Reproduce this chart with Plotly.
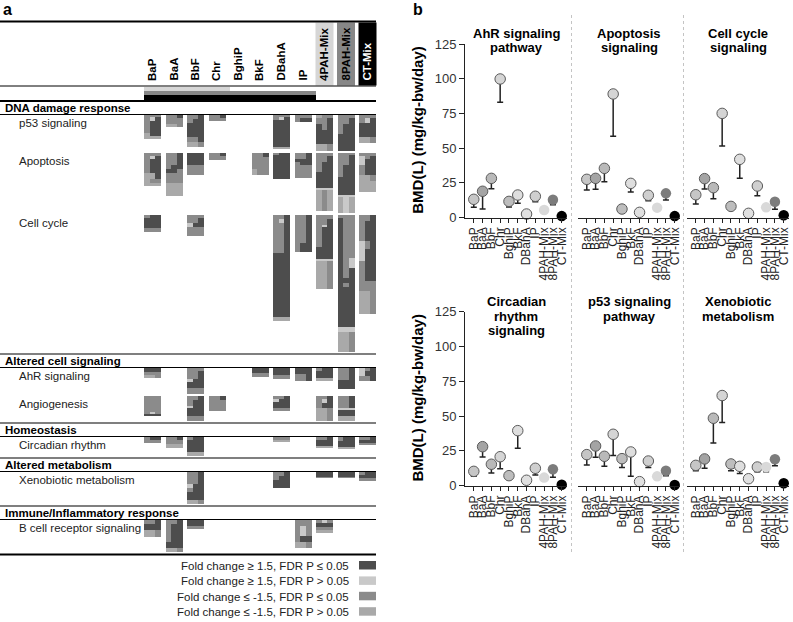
import numpy as np
import plotly.graph_objects as go

W, H = 793, 622
FONT = "Liberation Sans, Arial, sans-serif"

CHEMICALS = ["BaP", "BaA", "BbF", "Chr", "BghiP", "BkF", "DBahA", "IP",
             "4PAH-Mix", "8PAH-Mix", "CT-Mix"]

# ---------------- Panel b data: BMD and BMDL (mg/kg-bw/day) ----------------
AHR_BMD = [13.1, 18.9, 28.2, 99.8, 11.6, 16.2, 2.5, 15.3, 5.4, 12.8, 1.0]
AHR_BMDL = [7.3, 6.1, 20.8, 83.0, 7.6, 10.2, 1.0, 11.4, 5.4, 9.2, 1.0]
APO_BMD = [27.5, 28.2, 35.4, 89.0, 6.1, 24.6, 3.7, 16.0, 7.1, 17.4, 1.0]
APO_BMDL = [19.8, 20.3, 25.8, 58.5, 3.7, 18.4, 1.3, 12.1, 7.1, 12.6, 1.0]
CELL_BMD = [16.4, 28.0, 21.5, 75.0, 8.0, 41.9, 3.0, 22.7, 7.3, 11.4, 1.6]
CELL_BMDL = [9.7, 20.5, 13.5, 51.5, 6.3, 28.2, 1.3, 15.7, 7.3, 5.9, 1.6]
CIRC_BMD = [10.3, 28.0, 15.4, 20.8, 7.2, 39.5, 3.9, 12.5, 5.8, 11.8, 0.7]
CIRC_BMDL = [6.7, 20.6, 9.1, 12.2, 5.0, 26.9, 1.9, 7.7, 5.8, 6.0, 0.7]
P53_BMD = [22.3, 28.5, 21.1, 36.9, 19.4, 24.2, 2.9, 17.7, 6.7, 10.7, 0.5]
P53_BMDL = [14.9, 20.4, 14.0, 21.7, 13.1, 6.7, 1.7, 13.1, 6.7, 7.2, 0.5]
XENO_BMD = [14.6, 19.2, 48.4, 64.7, 15.6, 13.9, 5.0, 13.4, 13.4, 19.0, 1.7]
XENO_BMDL = [10.8, 12.5, 30.6, 45.3, 10.8, 8.8, 2.4, 10.0, 10.0, 14.4, 1.7]

PANEL_TITLES = [["AhR signaling", "pathway"], ["Apoptosis", "signaling"],
                ["Cell cycle", "signaling"], ["Circadian", "rhythm", "signaling"],
                ["p53 signaling", "pathway"], ["Xenobiotic", "metabolism"]]
PANEL_BMD = [AHR_BMD, APO_BMD, CELL_BMD, CIRC_BMD, P53_BMD, XENO_BMD]
PANEL_BMDL = [AHR_BMDL, APO_BMDL, CELL_BMDL, CIRC_BMDL, P53_BMDL, XENO_BMDL]

MARKER_FILL = ["#c6c6c6", "#a4a4a4", "#b9b9b9", "#d5d5d5", "#bdbdbd", "#dedede",
               "#e0e0e0", "#cfcfcf", "#d9d9d9", "#7c7c7c", "#000000"]
MARKER_EDGE = ["#5a5a5a"] * 8 + ["#d9d9d9", "#7c7c7c", "#000000"]
MARKER_EDGE_W = [1] * 8 + [0, 0, 0]
Y_TICKS = [0, 25, 50, 75, 100, 125]

# ---------------- Panel a data: gene blocks (height, dose colour codes) ----------------
# D: FC>=1.5 FDR<=0.05, W: FC>=1.5 FDR>0.05, M: FC<=-1.5 FDR<=0.05, L: FC<=-1.5 FDR>0.05
P53_BLOCKS = {
    "BaP": [(2, "MMM"), (4, "MWD"), (12, "MDD"), (3, "LDD"), (3, "LLL")],
    "BaA": [(3, "MMD"), (6, "MMM"), (3, "LLM")],
    "BbF": [(4, "MMD"), (4, "MDD"), (14, "DDD"), (5, "MMD"), (5, "LLM")],
    "Chr": [(3, "MMD"), (3, "MMM")],
    "DBahA": [(2, "MMM"), (3, "MWD"), (27, "DDD"), (2, "LLL")],
    "IP": [(3, "MMM"), (4, "MDD")],
    "4PAH-Mix": [(3, "LMM"), (6, "MMD"), (6, "DMD"), (14, "DDD"), (7, "LLM")],
    "8PAH-Mix": [(3, "MMM"), (6, "MMD"), (10, "MDD"), (17, "DDD")],
    "CT-Mix": [(3, "MMM"), (5, "MWD"), (14, "DDD"), (6, "LLM")],
}
APOPTOSIS_BLOCKS = {
    "BaP": [(3, "MMM"), (3, "MWD"), (14, "MDD"), (6, "LLD"), (4, "LMM"), (3, "LLL")],
    "BaA": [(12, "MMD"), (4, "MDD"), (4, "DDM"), (10, "MMM"), (13, "LLL")],
    "BbF": [(12, "DDD"), (10, "MMM")],
    "Chr": [(3, "MMD"), (4, "MMM")],
    "BkF": [(4, "MMD"), (12, "MMM"), (6, "LMM")],
    "DBahA": [(2, "MDD"), (24, "DDD")],
    "IP": [(6, "MMD"), (3, "DDD"), (3, "MDD"), (13, "MMM")],
    "4PAH-Mix": [(3, "MMM"), (6, "MMD"), (10, "MDD"), (16, "DDD"), (2, "WWW"), (21, "LML")],
    "8PAH-Mix": [(2, "MMM"), (10, "MMD"), (12, "MDD"), (18, "DDD"), (2, "WWW"), (16, "LWL")],
    "CT-Mix": [(3, "MMM"), (3, "WMD"), (6, "WDD"), (10, "MDD"), (6, "LLM"), (11, "LLL")],
}
CELLCYCLE_BLOCKS = {
    "BaP": [(3, "MDD"), (10, "DDD"), (4, "MMM")],
    "BbF": [(3, "MMM"), (5, "MMD"), (4, "WDD"), (9, "MMM")],
    "DBahA": [(4, "MMD"), (4, "MWD"), (30, "MMD"), (64, "DDD"), (4, "LLL")],
    "IP": [(28, "MMD"), (9, "MDD")],
    "4PAH-Mix": [(4, "MMM"), (6, "MMD"), (2, "MWD"), (20, "MDD"), (12, "DDD"), (2, "WWW"), (28, "LLM")],
    "8PAH-Mix": [(3, "MMM"), (40, "DMM"), (10, "DMW"), (10, "DMD"), (5, "DDD"), (4, "DMD"),
                 (40, "DDD"), (5, "WWW"), (20, "LLM")],
    "CT-Mix": [(6, "MMD"), (20, "MDD"), (8, "WMD"), (12, "WDD"), (20, "MDD"), (10, "MMM"), (23, "LLM")],
}
AHR_BLOCKS = {
    "BaP": [(4, "DDD"), (3, "MMM"), (3, "LLM")],
    "BbF": [(3, "MMM"), (8, "MMD"), (3, "WDD"), (6, "DDD"), (6, "MMM")],
    "BkF": [(5, "DDD"), (4, "MMM")],
    "DBahA": [(7, "DDD"), (4, "MMM")],
    "IP": [(6, "DDD"), (7, "MMD")],
    "4PAH-Mix": [(3, "MDD"), (7, "DDD"), (3, "LLL")],
    "8PAH-Mix": [(4, "MMD"), (8, "MMD"), (9, "DDD")],
    "CT-Mix": [(3, "WMD"), (5, "WDD"), (5, "MMD")],
}
ANGIO_BLOCKS = {
    "BaP": [(16, "MMM"), (2, "MWM"), (2, "DDD")],
    "BbF": [(4, "MMD"), (6, "MDD"), (2, "WDD"), (8, "DDD"), (5, "MMM")],
    "Chr": [(4, "MMD"), (11, "MMM")],
    "DBahA": [(3, "MMD"), (3, "WDD"), (6, "DDD"), (3, "MMM")],
    "4PAH-Mix": [(3, "MMD"), (4, "MWD"), (5, "MDD"), (13, "LLM")],
    "8PAH-Mix": [(4, "MMD"), (8, "MMD"), (2, "WWW"), (6, "DDD"), (5, "LLL")],
}
CIRCADIAN_BLOCKS = {
    "BaP": [(3, "MDD"), (3, "MMM")],
    "BaA": [(3, "MMD"), (4, "MMM"), (4, "LLL")],
    "BbF": [(3, "MDD"), (12, "DDD"), (4, "LLL")],
    "DBahA": [(3, "MMM"), (2, "LLL")],
    "4PAH-Mix": [(3, "MMD"), (6, "DDD"), (2, "LLL")],
    "8PAH-Mix": [(4, "MDD"), (6, "DDD"), (2, "LLL")],
    "CT-Mix": [(3, "MMD"), (3, "DDD"), (2, "MMM")],
}
XENO_BLOCKS = {
    "BbF": [(12, "MMD"), (4, "WDD"), (4, "MDD"), (8, "DDD"), (4, "LLM")],
    "DBahA": [(4, "MMD"), (4, "MDD"), (8, "DDD")],
    "4PAH-Mix": [(5, "DDD"), (1, "MMM")],
    "8PAH-Mix": [(5, "DDD"), (1, "MMM")],
    "CT-Mix": [(3, "MDD"), (3, "DDD"), (3, "MMM")],
}
BCELL_BLOCKS = {
    "BaP": [(4, "MMD"), (6, "DDD"), (7, "LLM")],
    "BaA": [(4, "MMD"), (18, "MDD"), (6, "DDD"), (4, "LLM")],
    "BbF": [(6, "DDD"), (3, "MMM")],
    "IP": [(6, "MMM"), (10, "MWM"), (6, "MDD"), (6, "LLM")],
    "4PAH-Mix": [(3, "MWM"), (4, "DDD"), (3, "MMM"), (3, "LLL")],
}

SECTIONS = [
    ("DNA damage response", [("p53 signaling", P53_BLOCKS), ("Apoptosis", APOPTOSIS_BLOCKS),
                             ("Cell cycle", CELLCYCLE_BLOCKS)]),
    ("Altered cell signaling", [("AhR signaling", AHR_BLOCKS), ("Angiogenesis", ANGIO_BLOCKS)]),
    ("Homeostasis", [("Circadian rhythm", CIRCADIAN_BLOCKS)]),
    ("Altered metabolism", [("Xenobiotic metabolism", XENO_BLOCKS)]),
    ("Immune/Inflammatory response", [("B cell receptor signaling", BCELL_BLOCKS)]),
]

MIX_MEMBERS = {
    "4PAH-Mix": ["BaP", "BaA", "BbF", "Chr"],
    "8PAH-Mix": ["BaP", "BaA", "BbF", "Chr", "BghiP", "BkF", "DBahA", "IP"],
    "CT-Mix": ["BaP", "BaA", "BbF", "Chr", "BghiP", "BkF", "DBahA", "IP"],
}
MIX_COLORS = {"4PAH-Mix": "#d6d6d6", "8PAH-Mix": "#878787", "CT-Mix": "#000000"}

LEGEND_LABELS = ["Fold change \u2265 1.5, FDR P \u2264 0.05", "Fold change \u2265 1.5, FDR P > 0.05",
                 "Fold change \u2264 -1.5, FDR P \u2264 0.05", "Fold change \u2264 -1.5, FDR P > 0.05"]
CODE_COLORS = ["#4d4d4d", "#c9c9c9", "#8b8b8b", "#a9a9a9"]
CODE_INDEX = {"D": 0, "W": 1, "M": 2, "L": 3}

# ---------------- geometry (layout only) ----------------
SLOT0, SLOT_W, BLOCK_W = 144.0, 21.5, 17.0
PANEL_A_RIGHT = 376
Y0_GRID, Y1_GRID = 100, 562

fig = go.Figure()
shapes, annos = [], []


def px_x(x):
    return x / W


def px_y(y):
    return 1 - y / H


# ---------- Panel a ----------
x_edges = []
for c in range(len(CHEMICALS)):
    x0 = SLOT0 + c * SLOT_W
    x_edges += [x0, x0 + BLOCK_W / 3, x0 + 2 * BLOCK_W / 3, x0 + BLOCK_W]
n_cols = len(x_edges) - 1
y_edges = list(range(Y0_GRID, Y1_GRID + 1))
z = np.full((len(y_edges) - 1, n_cols), np.nan)

A = dict(xref="x7", yref="y7")


def hline(y, width=1, color="#000"):
    shapes.append(dict(type="line", x0=0, x1=PANEL_A_RIGHT, y0=y, y1=y,
                       line=dict(color=color, width=width), layer="above", **A))


# header area
hline(21.5, 2)
for mix, col in MIX_COLORS.items():
    c = CHEMICALS.index(mix)
    x0 = SLOT0 + c * SLOT_W
    shapes.append(dict(type="rect", x0=x0 - 0.5, x1=x0 + BLOCK_W + 0.5, y0=22.5, y1=85.5,
                       fillcolor=col, line=dict(width=0), layer="below", **A))
for c, name in enumerate(CHEMICALS):
    x0 = SLOT0 + c * SLOT_W
    annos.append(dict(x=x0 + BLOCK_W / 2 - 1, y=83, text="<b>%s</b>" % name, textangle=-90,
                      showarrow=False, xanchor="center", yanchor="bottom",
                      font=dict(family=FONT, size=11.5, color="#fff" if name == "CT-Mix" else "#000"), **A))
hline(86, 1)
bar_rows = [("4PAH-Mix", 87, 91), ("8PAH-Mix", 91, 95), ("CT-Mix", 95, 100)]
for mix, ya, yb in bar_rows:
    members = MIX_MEMBERS[mix]
    i0 = CHEMICALS.index(members[0])
    i1 = CHEMICALS.index(members[-1])
    shapes.append(dict(type="rect", x0=SLOT0 + i0 * SLOT_W, x1=SLOT0 + (i1 + 1) * SLOT_W, y0=ya, y1=yb,
                       fillcolor=MIX_COLORS[mix], line=dict(width=0), **A))

y = 101
for si, (sec, pathways) in enumerate(SECTIONS):
    hline(y, 2 if si == 0 else 1.2)
    annos.append(dict(x=3, y=y + 7, text="<b>%s</b>" % sec, showarrow=False, xanchor="left",
                      yanchor="middle", font=dict(family=FONT, size=11.5, color="#000"), **A))
    hline(y + 13.5, 1.2)
    y += 14
    for pname, blocks in pathways:
        annos.append(dict(x=17, y=y + 8, text=pname, showarrow=False, xanchor="left", yanchor="middle",
                          font=dict(family=FONT, size=11.5, color="#222"), **A))
        maxh = 0
        for chem, bands in blocks.items():
            c = CHEMICALS.index(chem)
            cur = y
            for h, codes in bands:
                for k, ch in enumerate(codes):
                    z[cur - Y0_GRID: cur - Y0_GRID + h, 4 * c + k] = CODE_INDEX[ch]
                cur += h
            maxh = max(maxh, cur - y)
        y += maxh + 2
hline(y + 0.5, 2)

fig.add_trace(go.Heatmap(
    x=x_edges, y=y_edges, z=z, xaxis="x7", yaxis="y7", zmin=-0.5, zmax=3.5,
    colorscale=[[0, CODE_COLORS[0]], [0.25, CODE_COLORS[0]], [0.25, CODE_COLORS[1]], [0.5, CODE_COLORS[1]],
                [0.5, CODE_COLORS[2]], [0.75, CODE_COLORS[2]], [0.75, CODE_COLORS[3]], [1, CODE_COLORS[3]]],
    showscale=False, hoverinfo="skip", zsmooth=False))

# legend of panel a
for i, (lab, col) in enumerate(zip(LEGEND_LABELS, CODE_COLORS)):
    yy = 566 + i * 15.4
    annos.append(dict(x=351, y=yy, text=lab, showarrow=False, xanchor="right", yanchor="middle",
                      font=dict(family=FONT, size=11.5, color="#222"), **A))
    shapes.append(dict(type="rect", x0=359, x1=376, y0=yy - 5, y1=yy + 3.5, fillcolor=col,
                       line=dict(width=0), **A))

annos.append(dict(x=px_x(7), y=px_y(10), xref="paper", yref="paper", text="<b>a</b>", showarrow=False,
                  xanchor="center", yanchor="middle", font=dict(family=FONT, size=16, color="#000")))

# ---------- Panel b ----------
COL_X = [(465, 567), (578, 680), (687, 789)]
ROW_Y = [(44, 217.5), (311.5, 485.7)]
layout_axes = {}
for i in range(6):
    r, cidx = divmod(i, 3)
    xa, xb = COL_X[cidx]
    ya, yb = ROW_Y[r]
    n = i + 1
    xname = "xaxis" if n == 1 else "xaxis%d" % n
    yname = "yaxis" if n == 1 else "yaxis%d" % n
    layout_axes[xname] = dict(domain=[px_x(xa), px_x(xb)], anchor="y" if n == 1 else "y%d" % n,
                              range=[-1.0, 10.6], tickmode="array", tickvals=list(range(11)),
                              ticktext=CHEMICALS, tickangle=-90, showline=True, linecolor="#222",
                              linewidth=1, ticks="outside", ticklen=4, tickcolor="#222",
                              showgrid=False, zeroline=False, automargin=False,
                              tickfont=dict(family=FONT, size=12, color="#222"))
    ydict = dict(domain=[px_y(yb), px_y(ya)], anchor="x" if n == 1 else "x%d" % n, range=[0, 125],
                 tickvals=Y_TICKS, showgrid=False, zeroline=False, automargin=False)
    if cidx == 0:
        ydict.update(showline=True, linecolor="#222", linewidth=1, ticks="outside", ticklen=5,
                     tickcolor="#222", tickfont=dict(family=FONT, size=13, color="#333"))
    else:
        ydict.update(visible=False)
    layout_axes[yname] = ydict

    bmd, bmdl = PANEL_BMD[i], PANEL_BMDL[i]
    fig.add_trace(go.Scatter(
        x=list(range(11)), y=bmd, mode="markers",
        xaxis="x" if n == 1 else "x%d" % n, yaxis="y" if n == 1 else "y%d" % n,
        marker=dict(size=10.5, color=MARKER_FILL, line=dict(color=MARKER_EDGE, width=MARKER_EDGE_W)),
        error_y=dict(type="data", symmetric=False, array=[0] * 11,
                     arrayminus=[round(b - l, 2) for b, l in zip(bmd, bmdl)],
                     color="#222", thickness=1.5, width=3),
        cliponaxis=False, hoverinfo="skip", showlegend=False))

    # titles
    cx = (xa + xb) / 2
    ty0 = 33.3 if r == 0 else 301.7
    for j, line in enumerate(PANEL_TITLES[i]):
        annos.append(dict(x=px_x(cx), y=px_y(ty0 + j * 14.3), xref="paper", yref="paper",
                          text="<b>%s</b>" % line, showarrow=False, xanchor="center", yanchor="middle",
                          font=dict(family=FONT, size=13, color="#000")))

for r in range(2):
    ya, yb = ROW_Y[r]
    annos.append(dict(x=px_x(418), y=px_y((ya + yb) / 2), xref="paper", yref="paper",
                      text="<b>BMD(L) (mg/kg-bw/day)</b>", textangle=-90, showarrow=False,
                      xanchor="center", yanchor="middle", font=dict(family=FONT, size=15, color="#000")))

for xs in (571.5, 683.5):
    shapes.append(dict(type="line", xref="paper", yref="paper", x0=px_x(xs), x1=px_x(xs),
                       y0=px_y(15), y1=px_y(555), line=dict(color="#c4c4c4", width=1, dash="dot")))

annos.append(dict(x=px_x(418), y=px_y(10), xref="paper", yref="paper", text="<b>b</b>", showarrow=False,
                  xanchor="center", yanchor="middle", font=dict(family=FONT, size=16, color="#000")))

fig.update_layout(
    template="none",
    width=W, height=H, margin=dict(l=0, r=0, t=0, b=0, autoexpand=False),
    paper_bgcolor="white", plot_bgcolor="rgba(0,0,0,0)", showlegend=False,
    xaxis7=dict(domain=[0, 380 / W], range=[0, 380], visible=False, anchor="y7", automargin=False),
    yaxis7=dict(domain=[0, 1], range=[H, 0], visible=False, anchor="x7", automargin=False),
    shapes=shapes, annotations=annos, font=dict(family=FONT),
    **layout_axes,
)

fig.write_html("out.html", config={"displayModeBar": False, "staticPlot": True},
               post_script="document.body.style.margin='0';document.body.style.padding='0';"
                           "document.body.style.overflow='hidden';")
